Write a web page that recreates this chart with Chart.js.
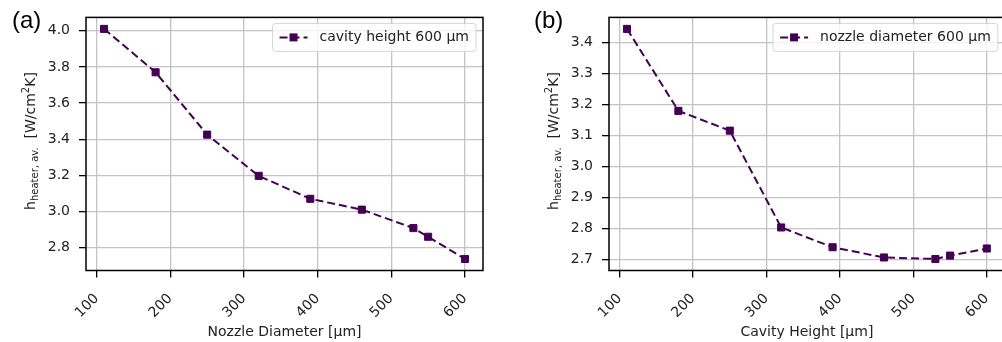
<!DOCTYPE html>
<html>
<head>
<meta charset="utf-8">
<script src="https://cdn.jsdelivr.net/npm/chart.js@4.4.1/dist/chart.umd.min.js"></script>
<style>
  html, body { margin: 0; padding: 0; background: #fff; overflow: hidden; width: 1002px; height: 342px; }
  .panel { position: absolute; top: 0; height: 342px; }
  #panelA { left: 0; width: 500px; }
  #panelB { left: 500px; width: 512px; }
  .tag { position: absolute; top: 6px; font-family: 'Liberation Sans', Arial, sans-serif; font-size: 24px; color: #000; }
  .ytitle { position: absolute; top: 141px; font-family: 'DejaVu Sans', sans-serif; font-size: 14px; color: #222;
            white-space: nowrap; transform: translate(-50%, -50%) rotate(-90deg); line-height: 1; }
  .ytitle sub { font-size: 10px; vertical-align: -3px; }
  .ytitle sup { font-size: 10px; vertical-align: 6px; }
</style>
</head>
<body>
<div class="panel" id="panelA">
  <canvas id="chartA"></canvas>
  <div class="tag" style="left:12px">(a)</div>
  <div class="ytitle" style="left:30px">h<sub>heater, av.</sub>&nbsp;&nbsp;[W/cm<sup>2</sup>K]</div>
</div>
<div class="panel" id="panelB">
  <canvas id="chartB"></canvas>
  <div class="tag" style="left:34px">(b)</div>
  <div class="ytitle" style="left:53px">h<sub>heater, av.</sub>&nbsp;&nbsp;[W/cm<sup>2</sup>K]</div>
</div>
<script>
// (a) varying nozzle diameter, cavity height fixed at 600 µm
const nozzleDiameter = [110, 180, 250, 320, 390, 460, 530, 550, 600];
const hByNozzle = [4.01, 3.77, 3.425, 3.197, 3.07, 3.01, 2.908, 2.86, 2.737];
// (b) varying cavity height, nozzle diameter fixed at 600 µm
const cavityHeight = [110, 180, 250, 320, 390, 460, 530, 550, 600];
const hByCavity = [3.445, 3.18, 3.116, 2.803, 2.739, 2.706, 2.701, 2.712, 2.735];

const xTicks = [100, 200, 300, 400, 500, 600];
const yTicksA = [2.8, 3.0, 3.2, 3.4, 3.6, 3.8, 4.0];
const yTicksB = [2.7, 2.8, 2.9, 3.0, 3.1, 3.2, 3.3, 3.4];

const lineColor = '#440154';
const tickFont = { family: 'DejaVu Sans', size: 14 };

// matplotlib-style 5% autoscale margins
function limits(vals) {
    const lo = Math.min(...vals), hi = Math.max(...vals);
    const m = (hi - lo) * 0.05;
    return [lo - m, hi + m];
}

const frame = {
    id: 'frame',
    afterDatasetsDraw(chart) {
        const a = chart.chartArea, ctx = chart.ctx;
        ctx.save();
        ctx.strokeStyle = '#000';
        ctx.lineWidth = 1.5;
        ctx.strokeRect(a.left, a.top, a.right - a.left, a.bottom - a.top);
        ctx.restore();
    }
};

const insideLegend = {
    id: 'insideLegend',
    afterDraw(chart) {
        const ctx = chart.ctx, a = chart.chartArea;
        const ds = chart.data.datasets[0];
        ctx.save();
        ctx.font = '14px "DejaVu Sans"';
        const tw = ctx.measureText(ds.label).width;
        const padX = 7, handleW = 28, gap = 12, boxH = 28;
        const boxW = padX + handleW + gap + tw + padX;
        const x0 = a.right - 7 - boxW;
        const y0 = a.top + 6;
        ctx.fillStyle = 'rgba(255,255,255,0.8)';
        ctx.strokeStyle = 'rgba(204,204,204,0.8)';
        ctx.lineWidth = 1;
        ctx.beginPath();
        ctx.roundRect(x0, y0, boxW, boxH, 3);
        ctx.fill();
        ctx.stroke();
        const cy = y0 + boxH / 2;
        ctx.strokeStyle = lineColor;
        ctx.lineWidth = 2;
        ctx.setLineDash([8, 4]);
        ctx.beginPath();
        ctx.moveTo(x0 + padX, cy);
        ctx.lineTo(x0 + padX + handleW, cy);
        ctx.stroke();
        ctx.setLineDash([]);
        ctx.fillStyle = lineColor;
        ctx.fillRect(x0 + padX + handleW / 2 - 4, cy - 4, 8, 8);
        ctx.fillStyle = '#222';
        ctx.textBaseline = 'middle';
        ctx.fillText(ds.label, x0 + padX + handleW + gap, cy);
        ctx.restore();
    }
};

function makeChart(id, xs, ys, label, xTitle, yTicks, yAxisWidth, padRight) {
    const xl = limits(xs), yl = limits(ys);
    return new Chart(document.getElementById(id), {
        type: 'line',
        data: {
            datasets: [{
                label: label,
                data: xs.map((x, i) => ({ x: x, y: ys[i] })),
                borderColor: lineColor,
                backgroundColor: lineColor,
                borderWidth: 2,
                borderDash: [8, 4],
                pointStyle: 'rect',
                pointRadius: 5,
                pointBorderWidth: 1,
                pointBackgroundColor: lineColor,
                pointBorderColor: lineColor,
                tension: 0,
                fill: false
            }]
        },
        options: {
            responsive: true,
            maintainAspectRatio: false,
            animation: false,
            events: [],
            layout: { padding: { left: 0, right: padRight, top: 14, bottom: 0 } },
            plugins: {
                legend: { display: false },
                tooltip: { enabled: false }
            },
            scales: {
                x: {
                    type: 'linear',
                    min: xl[0],
                    max: xl[1],
                    afterBuildTicks: (s) => { s.ticks = xTicks.map(v => ({ value: v })); },
                    afterFit: (s) => { s.height = 71.5; },
                    border: { display: false },
                    grid: { color: '#c4c4c4', lineWidth: 1.3, tickColor: '#000', tickLength: 7, tickWidth: 1.3 },
                    ticks: { font: tickFont, color: '#222', maxRotation: 45, minRotation: 45, autoSkip: false, padding: 13 },
                    title: { display: true, text: xTitle, font: tickFont, color: '#222', padding: { top: 0, bottom: 1 } }
                },
                y: {
                    type: 'linear',
                    min: yl[0],
                    max: yl[1],
                    afterBuildTicks: (s) => { s.ticks = yTicks.map(v => ({ value: v })); },
                    afterFit: (s) => { s.width = yAxisWidth; },
                    border: { display: false },
                    grid: { color: '#c4c4c4', lineWidth: 1.3, tickColor: '#000', tickLength: 7, tickWidth: 1.3 },
                    ticks: { font: tickFont, color: '#222', padding: 9, callback: (v) => Number(v).toFixed(1) }
                }
            }
        },
        plugins: [frame, insideLegend]
    });
}

makeChart('chartA', nozzleDiameter, hByNozzle, 'cavity height 600 µm', 'Nozzle Diameter [µm]', yTicksA, 86, 17);
makeChart('chartB', cavityHeight, hByCavity, 'nozzle diameter 600 µm', 'Cavity Height [µm]', yTicksB, 109, 7);
</script>
</body>
</html>
